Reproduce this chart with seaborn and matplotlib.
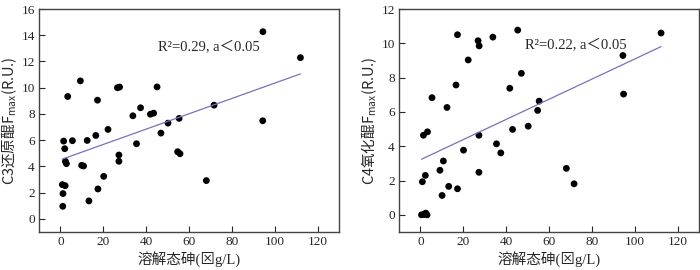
import numpy as np
import pandas as pd
import seaborn as sns
import matplotlib
matplotlib.use("Agg")
import matplotlib.pyplot as plt

# Daten
as_c3 = [0.9, 1.1, 1.2, 1.5, 2.0, 2.2, 2.3, 2.8, 3.4, 5.6, 9.3, 9.9, 10.8, 12.5,
         13.3, 16.5, 17.3, 17.5, 20.2, 22.2, 26.6, 27.6, 27.3, 27.3, 33.8, 35.5,
         37.4, 42.0, 43.5, 45.1, 46.9, 50.2, 54.7, 55.4, 55.8, 68.1, 71.7, 94.4,
         94.5, 112.0]
c3 = [2.61, 0.96, 1.93, 5.93, 5.35, 2.53, 4.39, 4.21, 9.33, 5.96, 10.52, 4.08,
      4.03, 5.98, 1.37, 6.36, 9.05, 2.28, 3.24, 6.82, 10.0, 10.05, 4.87, 4.39,
      7.86, 5.73, 8.47, 7.98, 8.06, 10.06, 6.54, 7.30, 5.12, 7.66, 4.97, 2.92,
      8.67, 7.48, 14.27, 12.29]

as_c4 = [0.5, 0.9, 1.4, 1.5, 1.9, 2.3, 2.5, 3.1, 3.3, 5.4, 9.1, 10.1, 10.7,
         12.4, 13.2, 16.6, 17.3, 17.3, 20.1, 22.3, 26.9, 27.3, 27.3, 27.4, 33.8,
         35.5, 37.5, 41.7, 43.0, 45.4, 47.1, 50.3, 54.7, 55.4, 68.1, 71.7, 94.5,
         94.8, 112.3]
c4 = [0.0, 1.93, 4.64, 0.02, 0.05, 2.30, 0.10, 0.0, 4.84, 6.83, 2.60, 1.13,
      3.14, 6.26, 1.66, 7.57, 10.50, 1.52, 3.77, 9.03, 10.15, 4.64, 2.48, 9.85,
      10.36, 4.14, 3.61, 7.38, 4.98, 10.77, 8.25, 5.17, 6.09, 6.63, 2.71, 1.81,
      9.29, 7.04, 10.6]

df3 = pd.DataFrame({"As": as_c3, "F": c3})
df4 = pd.DataFrame({"As": as_c4, "F": c4})

sns.set_style("ticks")
plt.rcParams['font.family'] = ['Liberation Serif', 'Noto Sans CJK SC', 'DejaVu Sans']
plt.rcParams['mathtext.fontset'] = 'custom'
plt.rcParams['mathtext.rm'] = 'Noto Sans CJK SC'

fig = plt.figure(figsize=(7, 2.7), dpi=100)
ax1 = fig.add_axes([39/700, 38/270, 300/700, 223/270])
ax2 = fig.add_axes([399/700, 38/270, 300/700, 223/270])

panels = [
    (ax1, df3, "C3还原醌F$_{\\mathrm{max}}$(R.U.)", (-1, 16), np.arange(0, 17, 2), "R²=0.29, a＜0.05", (45.5, 13.1)),
    (ax2, df4, "C4氧化醌F$_{\\mathrm{max}}$(R.U.)", (-1, 12), np.arange(0, 13, 2), "R²=0.22, a＜0.05", (49.0, 9.9)),
]

for ax, d, ylab, ylim, yt, txt, pos in panels:
    sns.regplot(data=d, x="As", y="F", ax=ax, ci=None,
                scatter_kws=dict(s=24, color="black", edgecolor="none", alpha=1),
                line_kws=dict(color="#7b6fbf", lw=0.9))
    ax.set_xlim(-10, 130)
    ax.set_ylim(*ylim)
    ax.set_xticks(np.arange(0, 121, 20))
    ax.set_yticks(yt)
    ax.tick_params(direction="in", length=4, width=0.8, labelsize=9.5, pad=3)
    for sp in ax.spines.values():
        sp.set_visible(True)
        sp.set_color("#444444")
        sp.set_linewidth(1.0)
    ax.set_xlabel("溶解态砷(⊠g/L)", fontsize=10.5, labelpad=2)
    ax.set_ylabel(ylab, fontsize=10.5, labelpad=2, family="Noto Sans CJK SC")
    ax.text(pos[0], pos[1], txt, fontsize=10.5, va="center", ha="left")

fig.savefig("out.png", dpi=100)
